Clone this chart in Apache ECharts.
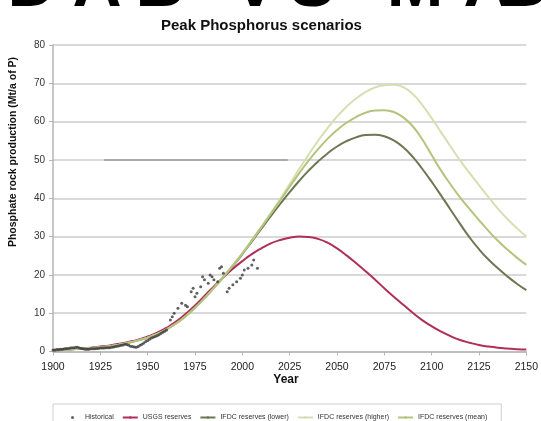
<!DOCTYPE html>
<html>
<head>
<meta charset="utf-8">
<script src="https://cdn.jsdelivr.net/npm/echarts@6/dist/echarts.min.js"></script>
<style>
  html, body { margin: 0; padding: 0; background: #fff; }
  #chart { width: 541px; height: 421px; }
</style>
</head>
<body>
<div id="chart"></div>
<script>
// scenario curves, sampled every 5 years
const years = [1900, 1905, 1910, 1915, 1920, 1925, 1930, 1935, 1940, 1945, 1950, 1955, 1960, 1965, 1970,
  1975, 1980, 1985, 1990, 1995, 2000, 2005, 2010, 2015, 2020, 2025, 2030, 2035, 2040, 2045, 2050,
  2055, 2060, 2065, 2070, 2075, 2080, 2085, 2090, 2095, 2100, 2105, 2110, 2115, 2120, 2125, 2130,
  2135, 2140, 2145, 2150]
const usgs = [0.3, 0.4, 0.6, 0.8, 1.0, 1.3, 1.6, 2.0, 2.5, 3.1, 3.9, 4.9, 6.2, 7.8, 9.8,
  12.0, 14.5, 17.0, 19.4, 21.6, 23.6, 25.4, 26.9, 28.2, 29.1, 29.7, 30.0, 29.9, 29.4, 28.4, 26.9,
  25.1, 23.1, 21.0, 18.8, 16.5, 14.3, 12.2, 10.1, 8.2, 6.6, 5.2, 4.0, 3.0, 2.3, 1.7, 1.3,
  1.0, 0.8, 0.6, 0.5]
const ifdcLower = [0.4, 0.5, 0.6, 0.7, 0.9, 1.1, 1.4, 1.8, 2.3, 2.9, 3.6, 4.6, 5.8, 7.3, 9.2,
  11.4, 13.9, 16.6, 19.4, 22.3, 25.4, 28.7, 32.0, 35.3, 38.5, 41.6, 44.5, 47.2, 49.6, 51.7, 53.5,
  54.9, 55.9, 56.5, 56.6, 56.2, 55.1, 53.3, 50.8, 47.7, 44.3, 40.7, 37.0, 33.3, 29.8, 26.7, 24.0,
  21.7, 19.6, 17.7, 16.0]
const ifdcHigher = [0.4, 0.5, 0.6, 0.7, 0.9, 1.1, 1.4, 1.8, 2.3, 2.9, 3.6, 4.6, 5.8, 7.3, 9.2,
  11.4, 13.9, 16.6, 19.5, 22.5, 25.6, 29.0, 32.5, 36.1, 39.8, 43.7, 47.6, 51.4, 55.0, 58.3, 61.3,
  63.9, 66.0, 67.7, 68.9, 69.5, 69.6, 69.0, 67.2, 64.4, 60.9, 57.2, 53.5, 49.9, 46.6, 43.4, 40.3,
  37.3, 34.6, 32.2, 30.0]
const ifdcMean = [0.4, 0.5, 0.6, 0.7, 0.9, 1.1, 1.4, 1.8, 2.3, 2.9, 3.6, 4.6, 5.8, 7.3, 9.2,
  11.4, 13.9, 16.6, 19.5, 22.5, 25.6, 29.0, 32.4, 35.9, 39.4, 43.0, 46.5, 49.8, 52.8, 55.5, 57.8,
  59.7, 61.2, 62.3, 62.9, 63.0, 62.5, 61.1, 58.8, 55.4, 51.3, 47.2, 43.6, 40.2, 37.2, 34.3, 31.5,
  28.9, 26.6, 24.5, 22.6]

// historical production (dots)
const histYears = [1900, 1901, 1902, 1903, 1904, 1905, 1906, 1907, 1908, 1909, 1910, 1911, 1912, 1913,
  1914, 1915, 1916, 1917, 1918, 1919, 1920, 1921, 1922, 1923, 1924, 1925, 1926, 1927, 1928, 1929,
  1930, 1931, 1932, 1933, 1934, 1935, 1936, 1937, 1938, 1939, 1940, 1941, 1942, 1943, 1944, 1945,
  1946, 1947, 1948, 1949, 1950, 1951, 1952, 1953, 1954, 1955, 1956, 1957, 1958, 1959, 1960,
  1962, 1963, 1964, 1966, 1968, 1970, 1971, 1973, 1974, 1975, 1976, 1978, 1979, 1980, 1982,
  1983, 1984, 1985, 1987, 1988, 1989, 1990, 1992, 1993, 1995, 1997, 1999, 2000, 2001, 2003,
  2005, 2006, 2008]
const histValues = [0.4, 0.4, 0.5, 0.5, 0.6, 0.6, 0.7, 0.8, 0.8, 0.9, 1.0, 1.0, 1.1, 1.1,
  0.9, 0.8, 0.7, 0.6, 0.6, 0.6, 0.7, 0.7, 0.7, 0.8, 0.8, 0.9, 0.9, 0.9, 1.0, 1.0,
  1.0, 1.1, 1.2, 1.3, 1.4, 1.5, 1.6, 1.7, 1.9, 1.8, 1.6, 1.4, 1.3, 1.2, 1.1, 1.3,
  1.6, 1.9, 2.2, 2.6, 2.9, 3.2, 3.5, 3.7, 3.9, 4.1, 4.4, 4.7, 5.0, 5.3, 5.6,
  8.2, 9.1, 10.0, 11.3, 12.6, 12.1, 11.7, 15.6, 16.5, 14.3, 15.2, 16.9, 19.5, 18.7, 17.8,
  20.0, 19.5, 18.7, 18.2, 21.7, 22.1, 20.4, 15.6, 16.5, 17.4, 18.2, 19.1, 20.0, 21.3, 21.7,
  22.6, 23.9, 21.7]

// stray reference line on the original sheet
const refLineYears = [1927, 2024]
const refLineValues = [50, 50]

const yTicks = [0, 10, 20, 30, 40, 50, 60, 70, 80]
const xTicks = [1900, 1925, 1950, 1975, 2000, 2025, 2050, 2075, 2100, 2125, 2150]

const pairs = (xs, ys) => xs.map((x, i) => [x, ys[i]])

const font = 'Liberation Sans, Arial, sans-serif'
const chart = echarts.init(document.getElementById('chart'))

// cut-off slide heading above the chart
const bigLetters = [['D', 32], ['A', 97], ['B', 160], ['V', 255], ['S', 312], ['M', 415], ['A', 488], ['D', 527]]

chart.setOption({
  animation: false,
  textStyle: { fontFamily: font },
  title: {
    text: 'Peak Phosphorus scenarios',
    left: 156,
    top: 13,
    textStyle: { fontSize: 15, fontWeight: 'bold', color: '#111', fontFamily: font }
  },
  graphic: bigLetters.map(l => ({
    type: 'text',
    x: l[1],
    y: -13,
    style: { text: l[0], font: 'bold 68px ' + font, fill: '#000', align: 'center', verticalAlign: 'middle' }
  })).concat([{
    type: 'text',
    x: 13,
    y: 152,
    rotation: Math.PI / 2,
    style: {
      text: 'Phosphate rock production (Mt/a of P)',
      font: 'bold 10.5px ' + font,
      fill: '#111',
      align: 'center',
      verticalAlign: 'middle'
    }
  }, {
    type: 'text',
    x: 286,
    y: 380,
    style: { text: 'Year', font: 'bold 12px ' + font, fill: '#111', align: 'center', verticalAlign: 'middle' }
  }]),
  legend: {
    left: 53,
    top: 404,
    padding: [10, 14, 8, 18],
    itemGap: 8,
    itemWidth: 15,
    itemHeight: 3,
    borderColor: '#cfcfcf',
    borderWidth: 1,
    textStyle: { fontSize: 7, color: '#333', fontFamily: font },
    data: [
      { name: 'Historical', icon: 'circle' },
      'USGS reserves',
      'IFDC reserves (lower)',
      'IFDC reserves (higher)',
      'IFDC reserves (mean)'
    ]
  },
  grid: { left: 53, right: 10, top: 45, bottom: 69.5 },
  xAxis: {
    type: 'value',
    min: xTicks[0],
    max: xTicks[xTicks.length - 1],
    interval: 25,
    axisLine: { show: true, lineStyle: { color: '#b5b5b5', width: 1.5 } },
    axisTick: { show: true, length: 4, lineStyle: { color: '#b5b5b5' } },
    axisLabel: { fontSize: 10.5, color: '#222', margin: 10, formatter: v => String(v) },
    splitLine: { show: false }
  },
  yAxis: {
    type: 'value',
    min: yTicks[0],
    max: yTicks[yTicks.length - 1],
    interval: 10,
    axisLine: { show: true, lineStyle: { color: '#b5b5b5', width: 1.5 } },
    axisTick: { show: true, length: 4, lineStyle: { color: '#b5b5b5' } },
    axisLabel: { fontSize: 10, color: '#333', margin: 8 },
    splitLine: { lineStyle: { color: '#cdcdcd', width: 1.5 } }
  },
  series: [
    {
      name: 'Historical',
      type: 'scatter',
      data: pairs(histYears, histValues),
      symbolSize: 3,
      itemStyle: { color: '#3a3a3a' },
      z: 5
    },
    {
      name: 'USGS reserves',
      type: 'line',
      data: pairs(years, usgs),
      smooth: true,
      symbol: 'none',
      lineStyle: { color: '#b02f5a', width: 2 },
      itemStyle: { color: '#b02f5a' }
    },
    {
      name: 'IFDC reserves (lower)',
      type: 'line',
      data: pairs(years, ifdcLower),
      smooth: true,
      symbol: 'none',
      lineStyle: { color: '#6d7752', width: 2 },
      itemStyle: { color: '#6d7752' }
    },
    {
      name: 'IFDC reserves (higher)',
      type: 'line',
      data: pairs(years, ifdcHigher),
      smooth: true,
      symbol: 'none',
      lineStyle: { color: '#d6dfb2', width: 2 },
      itemStyle: { color: '#d6dfb2' }
    },
    {
      name: 'IFDC reserves (mean)',
      type: 'line',
      data: pairs(years, ifdcMean),
      smooth: true,
      symbol: 'none',
      lineStyle: { color: '#b3c47c', width: 2 },
      itemStyle: { color: '#b3c47c' }
    },
    {
      name: 'ref',
      type: 'line',
      data: pairs(refLineYears, refLineValues),
      symbol: 'none',
      silent: true,
      lineStyle: { color: '#9a9a9a', width: 1.5 }
    }
  ]
})
</script>
</body>
</html>
